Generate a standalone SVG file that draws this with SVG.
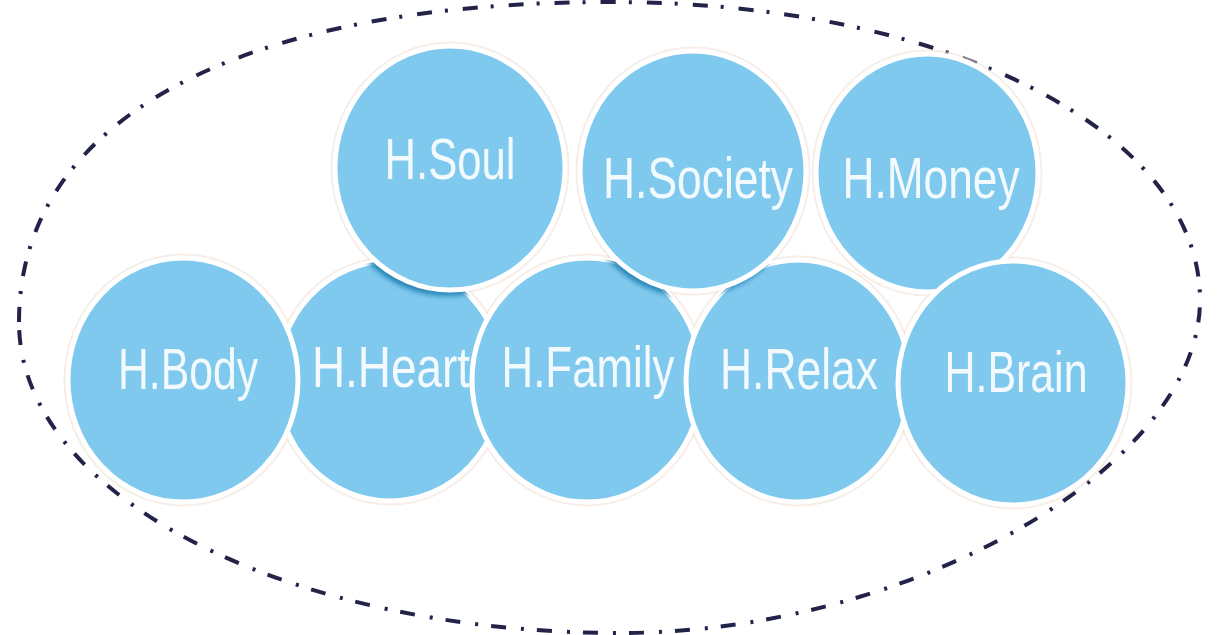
<svg xmlns="http://www.w3.org/2000/svg" width="1218" height="635" viewBox="0 0 1218 635">
  <style>
    .bubble { fill: #80C9EE; stroke: #FFFFFF; stroke-width: 5; }
    .halo { fill: none; stroke: #F1DDD2; stroke-width: 9; opacity: 0.5; }
    .shadow { fill: #1779AE; opacity: 0.85; }
    .label { font-family: "Liberation Sans", Arial, sans-serif; font-size: 58px; fill: #F3FAFE; text-anchor: middle; }
    .outline { fill: none; stroke: #23234A; stroke-width: 4; stroke-dasharray: 15 13 3 15; }
  </style>
  <defs>
    <clipPath id="lowerRow">
      <ellipse cx="390" cy="381" rx="113" ry="120"/>
      <ellipse cx="183" cy="380" rx="115" ry="122"/>
      <ellipse cx="587" cy="380" rx="115" ry="122"/>
      <ellipse cx="798" cy="381" rx="112" ry="121"/>
    </clipPath>
    <filter id="soft" x="-20%" y="-20%" width="140%" height="140%">
      <feGaussianBlur stdDeviation="2.5"/>
    </filter>
  </defs>
  <rect width="1218" height="635" fill="#FFFFFF"/>

  <g id="boundary">
    <path class="outline" d="M19,322 C19,117 244,2 610,2 C945,2 1200,130 1200,300 C1200,467 910,633 620,633 C290,633 19,497 19,322 Z"/>
  </g>

  <g id="halos">
    <ellipse class="halo" cx="390" cy="381" rx="113" ry="120"/>
    <ellipse class="halo" cx="183" cy="380" rx="115" ry="122"/>
    <ellipse class="halo" cx="587" cy="380" rx="115" ry="122"/>
    <ellipse class="halo" cx="798" cy="381" rx="112" ry="121"/>
    <ellipse class="halo" cx="450" cy="168" rx="115" ry="122"/>
    <ellipse class="halo" cx="693" cy="171" rx="113" ry="120"/>
    <ellipse class="halo" cx="927" cy="173" rx="111" ry="119"/>
    <ellipse class="halo" cx="1013" cy="383" rx="115" ry="122"/>
  </g>

  <g id="connectors"></g>

  <g id="node-heart">
    <ellipse class="bubble" cx="390" cy="381" rx="113" ry="120"/>
    <text class="label" x="391" y="387" textLength="158" lengthAdjust="spacingAndGlyphs">H.Heart</text>
  </g>
  <g id="node-body">
    <ellipse class="bubble" cx="183" cy="380" rx="115" ry="122"/>
    <text class="label" x="188" y="389" textLength="140" lengthAdjust="spacingAndGlyphs">H.Body</text>
  </g>
  <g id="node-family">
    <ellipse class="bubble" cx="587" cy="380" rx="115" ry="122"/>
    <text class="label" x="588" y="387" textLength="173" lengthAdjust="spacingAndGlyphs">H.Family</text>
  </g>
  <g id="node-relax">
    <ellipse class="bubble" cx="798" cy="381" rx="112" ry="121"/>
    <text class="label" x="799" y="389" textLength="158" lengthAdjust="spacingAndGlyphs">H.Relax</text>
  </g>
  <g id="node-soul">
    <ellipse class="shadow" cx="447" cy="174" rx="115" ry="122" filter="url(#soft)" clip-path="url(#lowerRow)"/>
    <ellipse class="bubble" cx="450" cy="168" rx="115" ry="122"/>
    <text class="label" x="450" y="179" textLength="131" lengthAdjust="spacingAndGlyphs">H.Soul</text>
  </g>
  <g id="node-society">
    <ellipse class="shadow" cx="690" cy="177" rx="113" ry="120" filter="url(#soft)" clip-path="url(#lowerRow)"/>
    <ellipse class="bubble" cx="693" cy="171" rx="113" ry="120"/>
    <text class="label" x="698" y="198" textLength="190" lengthAdjust="spacingAndGlyphs">H.Society</text>
  </g>
  <g id="node-money">
    <ellipse class="shadow" cx="924" cy="179" rx="111" ry="119" filter="url(#soft)" clip-path="url(#lowerRow)"/>
    <ellipse class="bubble" cx="927" cy="173" rx="111" ry="119"/>
    <text class="label" x="931" y="198" textLength="177" lengthAdjust="spacingAndGlyphs">H.Money</text>
  </g>
  <g id="node-brain">
    <ellipse class="bubble" cx="1013" cy="383" rx="115" ry="122"/>
    <text class="label" x="1016" y="392" textLength="143" lengthAdjust="spacingAndGlyphs">H.Brain</text>
  </g>
</svg>
